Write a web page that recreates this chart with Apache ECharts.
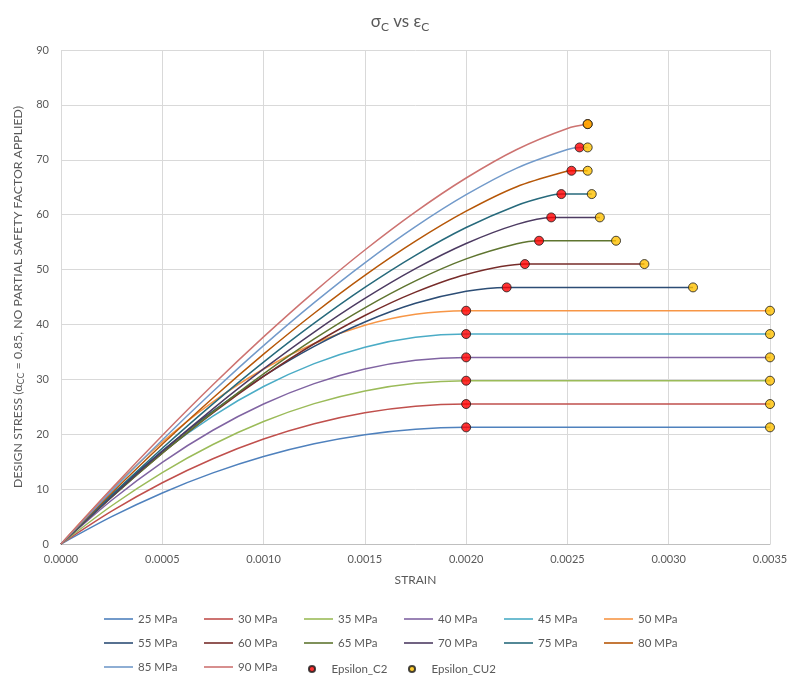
<!DOCTYPE html>
<html>
<head>
<meta charset="utf-8">
<script src="https://cdn.jsdelivr.net/npm/echarts@6/dist/echarts.min.js"></script>
<style>html,body{margin:0;padding:0;background:#fff}#c{width:800px;height:684px}</style>
</head>
<body>
<div id="c"></div>
<script>
// Curve data: [strain, design stress MPa]
const seriesNames = ['25 MPa','30 MPa','35 MPa','40 MPa','45 MPa','50 MPa','55 MPa','60 MPa','65 MPa','70 MPa','75 MPa','80 MPa','85 MPa','90 MPa'];
const c25 = [[0,0],[0.00025,4.98],[0.0005,9.30],[0.00075,12.95],[0.001,15.94],[0.00125,18.26],[0.0015,19.92],[0.00175,20.92],[0.002,21.25],[0.0035,21.25]];
const c30 = [[0,0],[0.00025,5.98],[0.0005,11.16],[0.00075,15.54],[0.001,19.13],[0.00125,21.91],[0.0015,23.91],[0.00175,25.10],[0.002,25.5],[0.0035,25.5]];
const c35 = [[0,0],[0.00025,6.97],[0.0005,13.02],[0.00075,18.13],[0.001,22.31],[0.00125,25.57],[0.0015,27.89],[0.00175,29.28],[0.002,29.75],[0.0035,29.75]];
const c40 = [[0,0],[0.00025,7.97],[0.0005,14.88],[0.00075,20.72],[0.001,25.5],[0.00125,29.22],[0.0015,31.88],[0.00175,33.47],[0.002,34],[0.0035,34]];
const c45 = [[0,0],[0.00025,8.96],[0.0005,16.73],[0.00075,23.31],[0.001,28.69],[0.00125,32.87],[0.0015,35.86],[0.00175,37.65],[0.002,38.25],[0.0035,38.25]];
const c50 = [[0,0],[0.00025,9.96],[0.0005,18.59],[0.00075,25.90],[0.001,31.88],[0.00125,36.52],[0.0015,39.84],[0.00175,41.84],[0.002,42.5],[0.0035,42.5]];
const c55 = [[0,0],[0.00025,8.90],[0.0005,16.98],[0.00075,24.22],[0.001,30.57],[0.00125,36.01],[0.0015,40.45],[0.00175,43.85],[0.002,46.05],[0.0022,46.75],[0.00312,46.75]];
const c60 = [[0,0],[0.00025,8.57],[0.0005,16.54],[0.00075,23.88],[0.001,30.54],[0.00125,36.48],[0.0015,41.63],[0.00175,45.89],[0.002,49.11],[0.00229,51],[0.00288,51]];
const c65 = [[0,0],[0.00025,8.51],[0.0005,16.53],[0.00075,24.04],[0.001,31.00],[0.00125,37.35],[0.0015,43.03],[0.00175,47.94],[0.002,51.94],[0.00225,54.70],[0.00236,55.25],[0.00274,55.25]];
const c70 = [[0,0],[0.00025,8.64],[0.0005,16.86],[0.00075,24.62],[0.001,31.89],[0.00125,38.61],[0.0015,44.73],[0.00175,50.16],[0.002,54.75],[0.00225,58.23],[0.00242,59.5],[0.00266,59.5]];
const c75 = [[0,0],[0.00025,8.93],[0.0005,17.44],[0.00075,25.53],[0.001,33.14],[0.00125,40.23],[0.0015,46.75],[0.00175,52.60],[0.002,57.66],[0.00225,61.68],[0.0024,63.35],[0.00247,63.75],[0.00262,63.75]];
const c80 = [[0,0],[0.00025,9.28],[0.0005,18.16],[0.00075,26.61],[0.001,34.58],[0.00125,42.04],[0.0015,48.94],[0.00175,55.17],[0.002,60.63],[0.00225,65.09],[0.0025,67.94],[0.00252,68],[0.0026,68]];
const c85 = [[0,0],[0.00025,9.68],[0.0005,18.95],[0.00075,27.78],[0.001,36.14],[0.00125,43.97],[0.0015,51.23],[0.00175,57.82],[0.002,63.64],[0.00225,68.49],[0.0025,71.87],[0.00256,72.25],[0.0026,72.25]];
const c90 = [[0,0],[0.00025,10.10],[0.0005,19.77],[0.00075,29.00],[0.001,37.73],[0.00125,45.94],[0.0015,53.56],[0.00175,60.51],[0.002,66.68],[0.00225,71.88],[0.0025,75.70],[0.0026,76.5]];
const curves = [c25,c30,c35,c40,c45,c50,c55,c60,c65,c70,c75,c80,c85,c90];
const epsilonC2 = [[0.002,21.25],[0.002,25.5],[0.002,29.75],[0.002,34],[0.002,38.25],[0.002,42.5],[0.0022,46.75],[0.00229,51],[0.00236,55.25],[0.00242,59.5],[0.00247,63.75],[0.00252,68],[0.00256,72.25],[0.0026,76.5]];
const epsilonCU2 = [[0.0035,21.25],[0.0035,25.5],[0.0035,29.75],[0.0035,34],[0.0035,38.25],[0.0035,42.5],[0.00312,46.75],[0.00288,51],[0.00274,55.25],[0.00266,59.5],[0.00262,63.75],[0.0026,68],[0.0026,72.25],[0.0026,76.5]];
const colors = ['#4F81BD','#C0504D','#9BBB59','#8064A2','#4BACC6','#F79646','#2C4D75','#772C2A','#5F7530','#4D3B62','#276A7C','#B65708','#729ACA','#CD7371'];
// legend order (Excel layout: 6 columns per row)
const legendOrder = seriesNames.concat(['Epsilon_C2','Epsilon_CU2']);

const txt = '#595959';
const font = 'Lato';
const dotIcon = 'path://M0,0M16,16M4.5,8A3.5,3.5,0,1,1,11.5,8A3.5,3.5,0,1,1,4.5,8Z';
const lineIcon = 'path://M0,0L29,0L29,1.6L0,1.6Z';

const series = curves.map((d, i) => ({
  name: seriesNames[i], type: 'line', data: d, showSymbol: false, symbol: 'none',
  smooth: 0.3,
  lineStyle: { color: colors[i], width: 1.5 }, itemStyle: { color: colors[i] }, z: 2
}));
series.push({
  name: 'Epsilon_C2', type: 'scatter', data: epsilonC2, symbolSize: 9, z: 3,
  itemStyle: { color: '#FF0000', borderColor: '#1a1a1a', borderWidth: 1 }
});
series.push({
  name: 'Epsilon_CU2', type: 'scatter', data: epsilonCU2, symbolSize: 9, z: 4,
  itemStyle: { color: '#FFC000', borderColor: '#1a1a1a', borderWidth: 1 }
});

const legends = legendOrder.map((n, i) => ({
  data: [{ name: n, icon: n.indexOf('Epsilon') === 0 ? dotIcon : lineIcon }],
  left: 104 + 100 * (i % 6), top: 613 + 24 * Math.floor(i / 6),
  orient: 'horizontal', padding: 0,
  itemWidth: 29, itemHeight: 14, itemGap: 0,
  textStyle: { color: txt, fontSize: 11.5, fontFamily: font }
}));

const chart = echarts.init(document.getElementById('c'), null, { renderer: 'canvas' });
chart.setOption({
  animation: false,
  backgroundColor: '#fff',
  textStyle: { fontFamily: font },
  title: {
    text: '{t|σ}{s|C}{t| vs ε}{s|C}',
    left: 'center', top: 6,
    textStyle: {
      rich: {
        t: { fontFamily: font, fontSize: 17, fontWeight: 'normal', color: txt, lineHeight: 22 },
        s: { fontFamily: font, fontSize: 12, fontWeight: 'normal', color: txt, lineHeight: 22, padding: [10, 0, 0, 0] }
      }
    }
  },
  grid: { left: 61, right: 30, top: 50, bottom: 140, containLabel: false },
  xAxis: {
    type: 'value', min: 0, max: 0.0035, interval: 0.0005,
    name: 'STRAIN', nameLocation: 'middle', nameGap: 30,
    nameTextStyle: { color: txt, fontSize: 12, fontFamily: font },
    axisLine: { show: true, lineStyle: { color: '#BFBFBF', width: 1 } },
    axisTick: { show: false },
    axisLabel: { color: txt, fontSize: 11, margin: 10, formatter: v => v.toFixed(4) },
    splitLine: { show: true, lineStyle: { color: '#D9D9D9', width: 1 } }
  },
  yAxis: {
    type: 'value', min: 0, max: 90, interval: 10,
    name: '{n|DESIGN STRESS (α}{s|CC}{n| = 0.85, NO PARTIAL SAFETY FACTOR APPLIED)}',
    nameLocation: 'middle', nameGap: 29,
    nameTextStyle: {
      rich: {
        n: { color: txt, fontSize: 12.3, fontFamily: font, lineHeight: 16 },
        s: { color: txt, fontSize: 9, fontFamily: font, lineHeight: 16, padding: [6, 0, 0, 0] }
      }
    },
    axisLine: { show: false },
    axisTick: { show: false },
    axisLabel: { color: txt, fontSize: 11, margin: 12 },
    splitLine: { show: true, lineStyle: { color: '#D9D9D9', width: 1 } }
  },
  legend: legends,
  series: series
});
</script>
</body>
</html>
